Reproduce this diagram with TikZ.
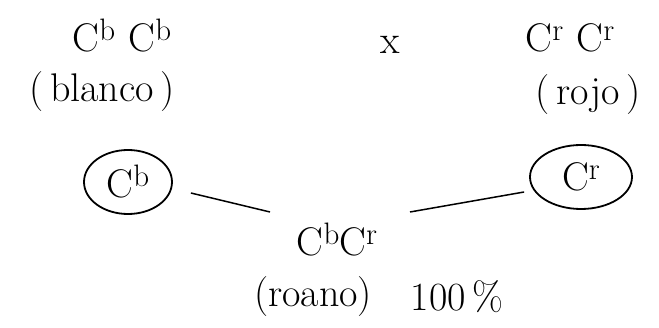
\documentclass[tikz,border=0pt]{standalone}
\usepackage{fontspec}
\setmainfont{Latin Modern Roman}
\usetikzlibrary{shapes.geometric}
\newcommand{\sups}[1]{\raisebox{11pt}{\fontsize{31}{31}\selectfont #1}}
\begin{document}
\begin{tikzpicture}[x=1pt,y=1pt,
  txt/.style={inner sep=0pt,font=\fontsize{40}{44}\selectfont},
  gam/.style={ellipse,draw,line width=1.8pt,inner sep=0pt,minimum height=64pt,font=\fontsize{40}{44}\selectfont},
  link/.style={line width=1.5pt}]
\useasboundingbox (0,0) rectangle (659,-328);
\node[txt] (p1) at (122,-36) {C\sups{b}\,\,C\sups{b}};
\node[txt] (pl1) at (102,-92) {(\,blanco\,)};
\node[txt] (cross) at (390,-45) {x};
\node[txt] (p2) at (570,-38) {C\sups{r}\,\,C\sups{r}};
\node[txt] (pl2) at (588,-95) {(\,rojo\,)};
\node[gam,minimum width=88pt] (g1) at (128,-182) {C\sups{b}};
\node[gam,minimum width=102pt] (g2) at (581,-177) {C\sups{r}};
\node[txt] (f1) at (337,-240) {C\sups{b}C\sups{r}};
\node[txt] (fl1) at (313,-297) {(roano)};
\node[txt] (pct) at (457,-297) {100\,\%};
\draw[link] ([xshift=18pt,yshift=-11pt]g1.east) -- ([shift={(-67pt,28pt)}]f1.center);
\draw[link] ([shift={(73pt,28pt)}]f1.center) -- ([xshift=-5pt,yshift=-15pt]g2.west);
\end{tikzpicture}
\end{document}
